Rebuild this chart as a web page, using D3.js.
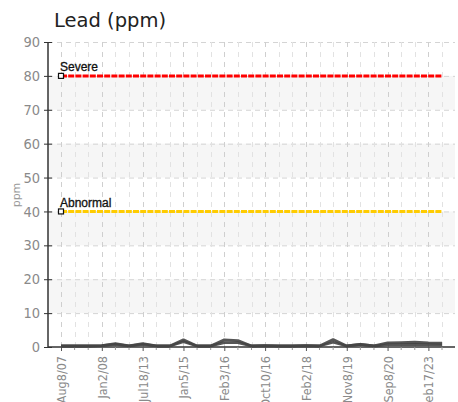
<!DOCTYPE html>
<html>
<head>
<meta charset="utf-8">
<script src="https://cdn.jsdelivr.net/npm/d3@7"></script>
<style>
  html, body { margin: 0; padding: 0; background: #fff; }
  svg { display: block; }
  .narrow { font-family: "Liberation Sans Narrow", "DejaVu Sans Condensed", "Arial Narrow", sans-serif; }
</style>
</head>
<body>
<svg id="chart" width="458" height="402"></svg>
<script>
// ---- data ----
const title = "Lead (ppm)";
const yLabel = "ppm";
const tickLabels = ["Aug8/07", "Jan2/08", "Jul18/13", "Jan5/15", "Feb3/16", "Oct10/16", "Feb2/18", "Nov8/19", "Sep8/20", "Feb17/23"];
const tickEvery = 3;             // one label every 3 samples
const yTicks = [0, 10, 20, 30, 40, 50, 60, 70, 80, 90];
const seriesA = [0.3, 0.3, 0.3, 0.4, 1.0, 0.3, 1.0, 0.3, 0.3, 2.1, 0.3, 0.3, 2.1, 1.9, 0.3, 0.4, 0.3, 0.3, 0.4, 0.3, 2.2, 0.3, 0.8, 0.3, 1.2, 1.3, 1.4, 1.2, 1.1];
const seriesB = [0.3, 0.3, 0.3, 0.4, 0.8, 0.3, 0.8, 0.3, 0.3, 1.6, 0.3, 0.3, 1.3, 1.3, 0.3, 0.4, 0.3, 0.3, 0.4, 0.3, 1.4, 0.3, 0.8, 0.3, 0.7, 0.7, 0.8, 0.7, 0.6];
const limitNames = ["Severe", "Abnormal"];
const limitValues = [80, 40];
const limitColors = ["#ff0000", "#ffcc00"];
const bands = [[70, 80], [50, 60], [30, 40], [10, 20]];

(function () {
// ---- layout ----
const svg = d3.select("#chart");
const pL = 48, pR = 455, pT = 42, pB = 347;
const n = seriesA.length;
const x = d3.scaleLinear().domain([0, n - 1]).range([61, 442]);
const y = d3.scaleLinear().domain([0, 90]).range([pB, pT]);

// title
svg.append("text").attr("x", 54).attr("y", 27)
  .attr("font-family", "DejaVu Sans, sans-serif").attr("font-size", 19.5)
  .attr("fill", "#222").text(title);

// bands
svg.append("g").selectAll("rect").data(bands).join("rect")
  .attr("x", pL).attr("width", pR - pL)
  .attr("y", d => y(d[1])).attr("height", d => y(d[0]) - y(d[1]))
  .attr("fill", "#f6f6f6");

// horizontal grid
svg.append("g").selectAll("line").data(yTicks.filter(v => v > 0)).join("line")
  .attr("x1", pL).attr("x2", pR)
  .attr("y1", d => y(d) + 0.5).attr("y2", d => y(d) + 0.5)
  .attr("stroke", "#d4d4d4").attr("stroke-width", 1).attr("stroke-dasharray", "5,4");

// vertical grid
const gridIdx = d3.range(0, n + 1);
svg.append("g").selectAll("line").data(gridIdx).join("line")
  .attr("x1", d => Math.round(x(d)) + 0.5).attr("x2", d => Math.round(x(d)) + 0.5)
  .attr("y1", pT).attr("y2", pB)
  .attr("stroke", d => d % tickEvery === 0 ? "#cfcfcf" : "#e2e2e2")
  .attr("stroke-width", 1).attr("stroke-dasharray", "5,5")
  .style("display", d => x(d) > pR ? "none" : null);

// y axis
const yAxis = d3.axisLeft(y).tickValues(yTicks).tickSize(4).tickPadding(4);
const gy = svg.append("g").attr("transform", `translate(${pL},0)`).call(yAxis);
gy.select(".domain").attr("stroke", "#333").attr("stroke-width", 1.5).attr("d", `M0,${pT}V${pB}`);
gy.selectAll(".tick line").attr("stroke", "#333").attr("x1", 4).attr("x2", -4);
gy.selectAll(".tick text").attr("class", "narrow").attr("font-size", 14.5).attr("fill", "#8a8a8a");

// x axis
const tickIdx = tickLabels.map((_, i) => i * tickEvery);
const xAxis = d3.axisBottom(x).tickValues(tickIdx).tickSize(4)
  .tickFormat((d, i) => tickLabels[i]);
const gx = svg.append("g").attr("transform", `translate(0,${pB})`).call(xAxis);
gx.select(".domain").attr("stroke", "#333").attr("stroke-width", 1.5).attr("d", `M${pL},0H${pR}`);
gx.selectAll(".tick line").attr("stroke", "#555");
gx.selectAll(".tick text").attr("class", "narrow").attr("font-size", 12.5).attr("fill", "#8a8a8a")
  .attr("text-anchor", "end").attr("dy", null)
  .attr("transform", "translate(4.5,9) rotate(-90)").attr("x", 0).attr("y", 0);

// minor x ticks
svg.append("g").selectAll("line").data(d3.range(n).filter(i => i % tickEvery !== 0)).join("line")
  .attr("x1", d => x(d)).attr("x2", d => x(d)).attr("y1", pB).attr("y2", pB + 3)
  .attr("stroke", "#999");

// y label
svg.append("text").attr("transform", `translate(20,195) rotate(-90)`)
  .attr("text-anchor", "middle").attr("font-family", "DejaVu Sans, sans-serif")
  .attr("font-size", 11).attr("fill", "#999").text(yLabel);

// limit lines
limitValues.forEach((v, k) => {
  svg.append("line").attr("x1", x(0)).attr("x2", x(n - 1))
    .attr("y1", y(v)).attr("y2", y(v))
    .attr("stroke", limitColors[k]).attr("stroke-width", 3).attr("stroke-dasharray", "6,1.2");
  svg.append("rect").attr("x", x(0) - 2.5).attr("y", y(v) - 2.5).attr("width", 5).attr("height", 5)
    .attr("fill", "#fff").attr("stroke", "#111").attr("stroke-width", 1.2);
  svg.append("text").attr("x", x(0) - 1).attr("y", y(v) - 4.5)
    .attr("font-family", "Liberation Sans, Arial, sans-serif").attr("font-size", 12)
    .attr("fill", "#111").attr("stroke", "#111").attr("stroke-width", 0.3)
    .text(limitNames[k]);
});

// data lines
const line = d3.line().x((d, i) => x(i)).y(d => y(d));
[seriesB, seriesA].forEach(s => {
  svg.append("path").datum(s).attr("d", line)
    .attr("fill", "none").attr("stroke", "#444").attr("stroke-width", 2.8)
    .attr("stroke-linejoin", "round").attr("stroke-opacity", 0.9);
});
})();
</script>
</body>
</html>
